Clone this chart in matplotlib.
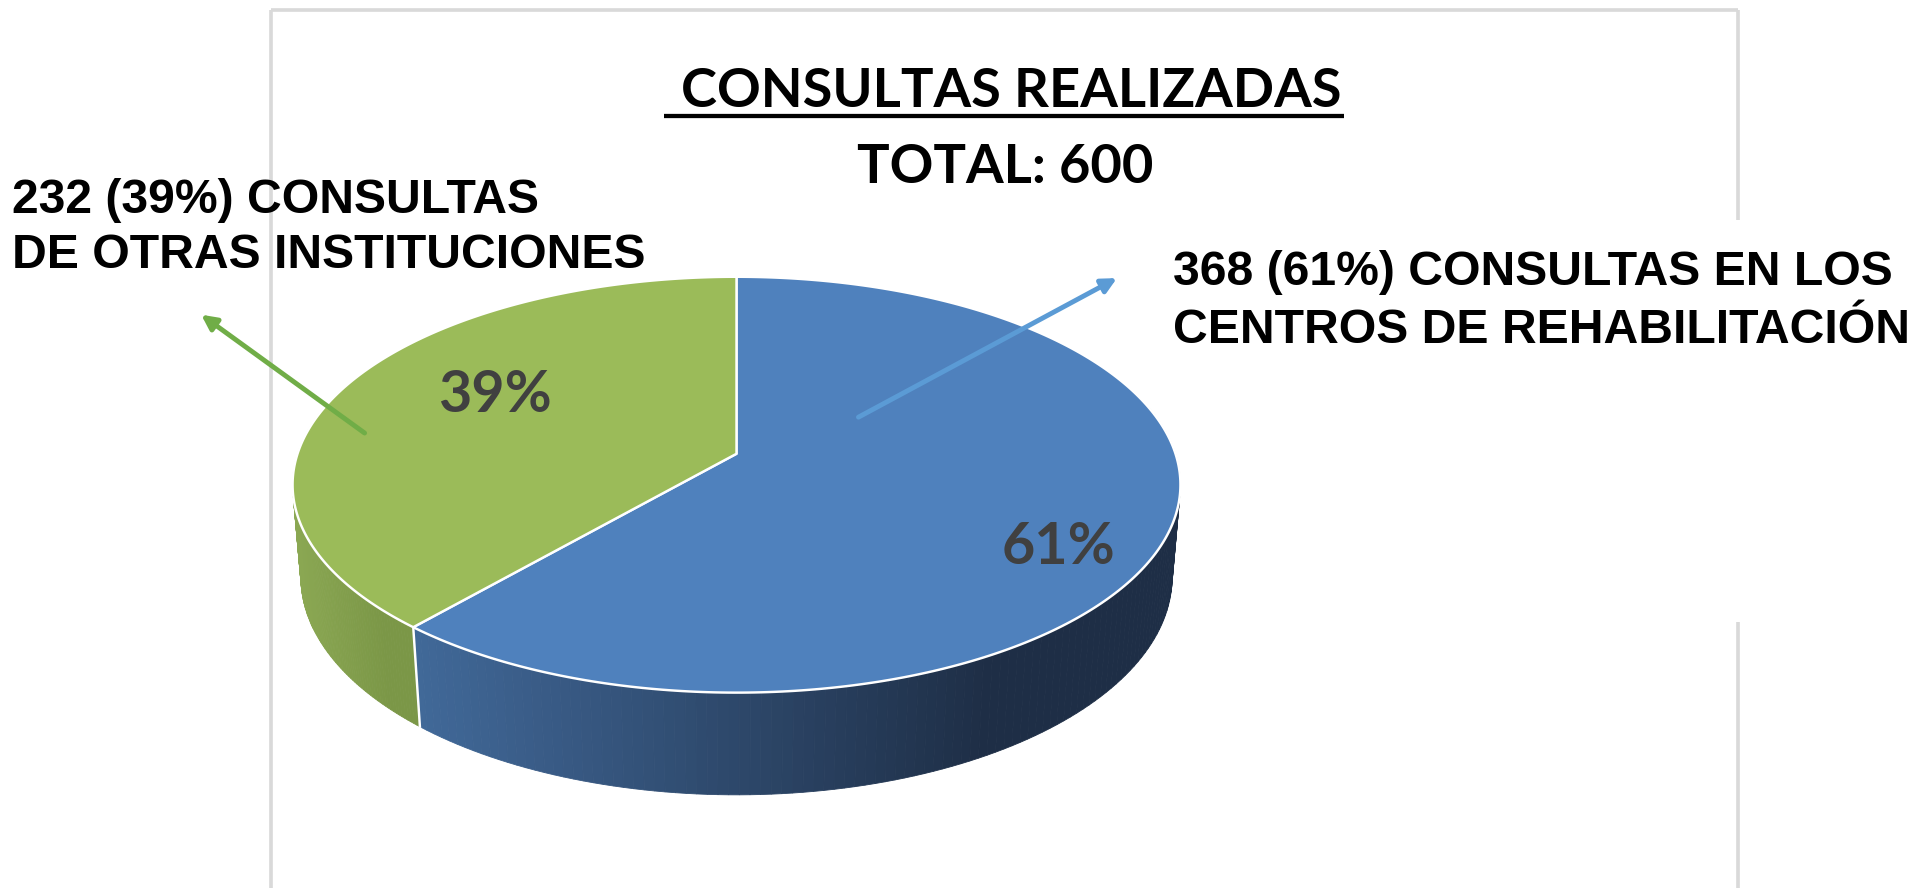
"""
Consultas realizadas - 3D pie (Excel style) with callout labels.
Layout units follow the 1568x728 reference view; the figure is saved at 1912x888.
"""

import numpy as np
import matplotlib
matplotlib.use('Agg')
import matplotlib.pyplot as plt
from matplotlib import font_manager
from matplotlib.patches import Polygon
from matplotlib.colors import to_rgb

# data
counts = [368, 232]
line1_desc = ["CONSULTAS EN LOS", "CONSULTAS"]
line2_desc = ["CENTROS DE REHABILITACIÓN", "DE OTRAS INSTITUCIONES"]
top_colors = ["#4F81BD", "#9BBB59"]
side_light = ["#416999", "#8BA853"]
side_dark = ["#1E2E46", "#7B9747"]
arrow_colors = ["#5B9BD5", "#70AD47"]
title = "CONSULTAS REALIZADAS"

total = sum(counts)
fracs = np.array(counts) / total

W, H = 1568, 728
PT = 0.878          # points per layout unit

fig = plt.figure(figsize=(19.12, 8.88), dpi=100, facecolor='white')
ax = fig.add_axes([0, 0, 1, 1])
ax.set_xlim(0, W)
ax.set_ylim(H, 0)
ax.axis('off')

names = {f.name for f in font_manager.fontManager.ttflist}
if 'Liberation Sans Narrow' in names:
    ann_font, ann_size = 'Liberation Sans Narrow', 46 * PT
else:
    ann_font, ann_size = 'Liberation Sans', 39.5 * PT
head_font = 'Lato' if 'Lato' in names else 'DejaVu Sans'

# frame of the original chart area
frame_kw = dict(color='#d9d9d9', lw=3 * PT, solid_capstyle='butt', zorder=0)
ax.plot([222, 1425], [8, 8], **frame_kw)
ax.plot([222, 222], [8, H + 5], **frame_kw)
ax.plot([1425, 1425], [8, 180], **frame_kw)
ax.plot([1425, 1425], [510, H + 5], **frame_kw)

# perspective projection of a tilted disc
CX, CY = 604, 372
S, RD = 360, 0.168
SPHI, CPHI = 0.463, 0.886
DEPTH = 0.24


def proj(t, h=0.0, r=1.0):
    den = 1 + RD * (h * SPHI + r * np.sin(t) * CPHI)
    u = S * r * np.cos(t) / den
    v = S * (-h * CPHI + r * np.sin(t) * SPHI) / den
    return CX + u, CY - v


# slices go clockwise from 12 o'clock, like Excel
bounds = np.deg2rad(90 - 360 * np.concatenate([[0], np.cumsum(fracs)]))
front_lo, front_hi = -np.pi - 0.25, 0.25

# side walls
for i in range(len(counts)):
    lo = max(bounds[i + 1], front_lo)
    hi = min(bounds[i], front_hi)
    if hi <= lo:
        continue
    n = 120
    ts = np.linspace(lo, hi, n + 1)
    xs_all = proj(ts)[0]
    x0, x1 = xs_all.min(), xs_all.max()
    c0, c1 = np.array(to_rgb(side_light[i])), np.array(to_rgb(side_dark[i]))
    for j in range(n):
        t0, t1 = ts[j], ts[j + 1]
        pts = [proj(t0), proj(t1), proj(t1, DEPTH), proj(t0, DEPTH)]
        xm = 0.5 * (pts[0][0] + pts[1][0])
        s = np.clip((xm - x0) / (0.75 * (x1 - x0) + 1e-9), 0, 1)
        col = c0 + (c1 - c0) * s
        ax.add_patch(Polygon(pts, closed=True, facecolor=col, edgecolor=col,
                             lw=0.6, zorder=2))

# white seam on the side between slices
b = bounds[1]
ax.plot(*zip(proj(b), proj(b, DEPTH)), color='white', lw=2 * PT, zorder=3)

# top faces
for i in range(len(counts)):
    ts = np.linspace(bounds[i + 1], bounds[i], 300)
    xs, ys = proj(ts)
    pts = [(CX, CY)] + list(zip(xs, ys))
    ax.add_patch(Polygon(pts, closed=True, facecolor=top_colors[i],
                         edgecolor='white', lw=2 * PT, joinstyle='round', zorder=4))

# percentage labels on the slices
pct_pos = [(868, 462), (406, 338)]
for i, (px, py) in enumerate(pct_pos):
    ax.text(px, py, f"{fracs[i]:.0%}", ha='center', va='baseline',
            fontsize=47 * PT, fontweight='bold', color='#404040',
            family=head_font, zorder=6)

# title
t_obj = ax.text(829, 88, title, ha='center', va='baseline', fontsize=44.5 * PT,
                fontweight='bold', color='black', family=head_font)
ax.text(824, 150, f"TOTAL: {total}", ha='center', va='baseline',
        fontsize=44.5 * PT, fontweight='bold', color='black', family=head_font)
fig.canvas.draw()
bb = t_obj.get_window_extent().transformed(ax.transData.inverted())
ax.plot([bb.x0 - 14, bb.x1 + 2], [95, 95], color='black', lw=3.5 * PT,
        solid_capstyle='butt')

# callouts
ann_pos = [(962, 234, 281), (10, 175, 220)]
arrows = [((704, 342), (916, 228)), ((299, 355), (165, 258))]
for i in range(len(counts)):
    x, yb1, yb2 = ann_pos[i]
    ax.text(x, yb1, f"{counts[i]} ({fracs[i]:.0%}) {line1_desc[i]}", ha='left',
            va='baseline', fontsize=ann_size, fontweight='bold',
            family=[ann_font, 'DejaVu Sans'], zorder=7)
    ax.text(x, yb2, line2_desc[i], ha='left', va='baseline', fontsize=ann_size,
            fontweight='bold', family=[ann_font, 'DejaVu Sans'], zorder=7)
    tail, head = arrows[i]
    ax.annotate('', xy=head, xytext=tail, zorder=8,
                arrowprops=dict(arrowstyle='-|>', color=arrow_colors[i],
                                lw=4 * PT, mutation_scale=22,
                                shrinkA=0, shrinkB=0))

fig.savefig('out.png', dpi=100, facecolor='white')
